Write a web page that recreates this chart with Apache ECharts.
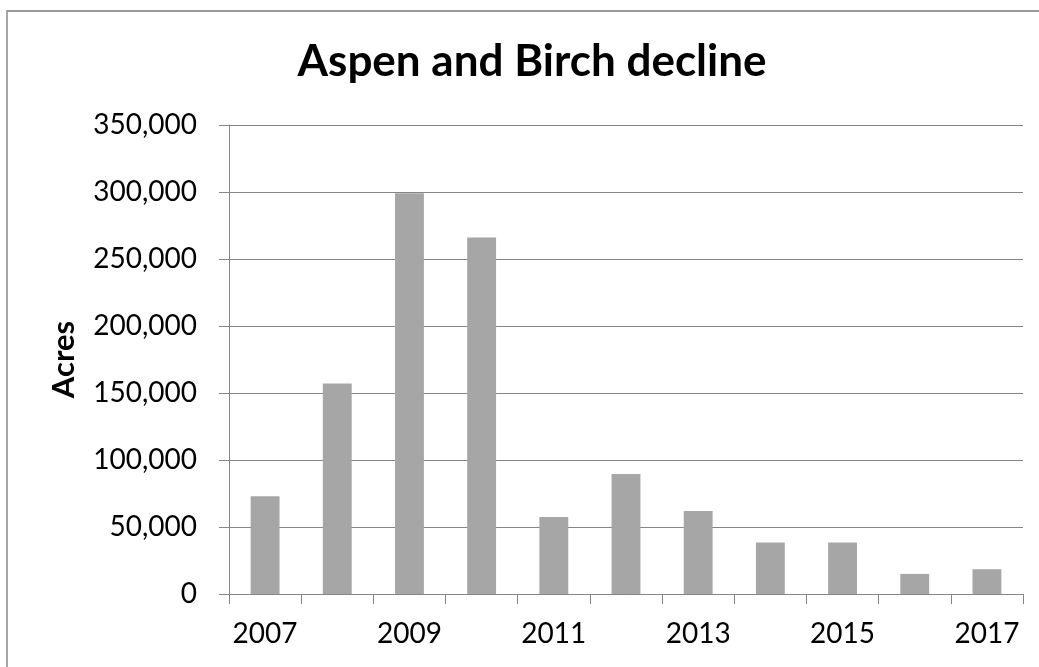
<!DOCTYPE html>
<html lang="en">
    <head>
        <meta charset="utf-8">
        <title>Aspen and Birch decline</title>
        <script src="https://cdn.jsdelivr.net/npm/echarts@6/dist/echarts.min.js"></script>
        <style>
            html, body { margin: 0; padding: 0; background: #fff; }
            .frame {
                position: absolute; left: 6px; top: 10px;
                width: 1100px; height: 700px;
                border-left: 2px solid #a6a6a6;
                border-top: 2px solid #9a9a9a;
            }
            .echarts_main { position: absolute; left: 0; top: 0; width: 1039px; height: 667px; }
        </style>
    </head>
    <body>
        <div class="frame"></div>
        <div class="echarts_main"></div>

        <script type="text/javascript">
            // years on the x axis
            const years = ['2007', '2008', '2009', '2010', '2011', '2012', '2013', '2014', '2015', '2016', '2017'];
            // acres of decline
            const acres = [73000, 157000, 299000, 266000, 57500, 89500, 62000, 38500, 38500, 15000, 18500];
            // y axis ticks
            const yMin = 0;
            const yMax = 350000;
            const yStep = 50000;

            const fontName = 'Lato, "Open Sans", sans-serif';

            let Chart = echarts.init(document.getElementsByClassName('echarts_main')[0]);

            let option = {
                animation: false,
                title: {
                    text: 'Aspen and Birch decline',
                    left: 527,
                    top: 35,
                    textAlign: 'center',
                    textStyle: { fontFamily: fontName, fontWeight: 'bold', fontSize: 44, color: '#000' }
                },
                grid: { left: 229, right: 16, top: 125, bottom: 73 },
                xAxis: {
                    type: 'category',
                    data: years,
                    boundaryGap: true,
                    axisLine: { lineStyle: { color: '#868686', width: 1 } },
                    axisTick: { show: true, interval: 0, length: 10, lineStyle: { color: '#868686' } },
                    axisLabel: {
                        interval: 1,
                        margin: 26,
                        fontFamily: fontName,
                        fontSize: 28,
                        color: '#000'
                    },
                    splitLine: { show: false }
                },
                yAxis: {
                    type: 'value',
                    min: yMin,
                    max: yMax,
                    interval: yStep,
                    name: 'Acres',
                    nameLocation: 'middle',
                    nameGap: 150,
                    nameTextStyle: { fontFamily: fontName, fontWeight: 'bold', fontSize: 31, color: '#000' },
                    axisLine: { show: true, lineStyle: { color: '#868686', width: 1 } },
                    axisTick: { show: true, length: 10, lineStyle: { color: '#868686' } },
                    axisLabel: {
                        margin: 32,
                        fontFamily: fontName,
                        fontSize: 28,
                        color: '#000',
                        formatter: (v) => v.toLocaleString('en-US')
                    },
                    splitLine: { lineStyle: { color: '#868686', width: 1 } }
                },
                series: [
                    {
                        name: 'Acres',
                        type: 'bar',
                        data: acres,
                        barCategoryGap: '60%',
                        itemStyle: { color: '#a6a6a6' }
                    }
                ]
            };

            Chart.setOption(option);
        </script>
    </body>
</html>
